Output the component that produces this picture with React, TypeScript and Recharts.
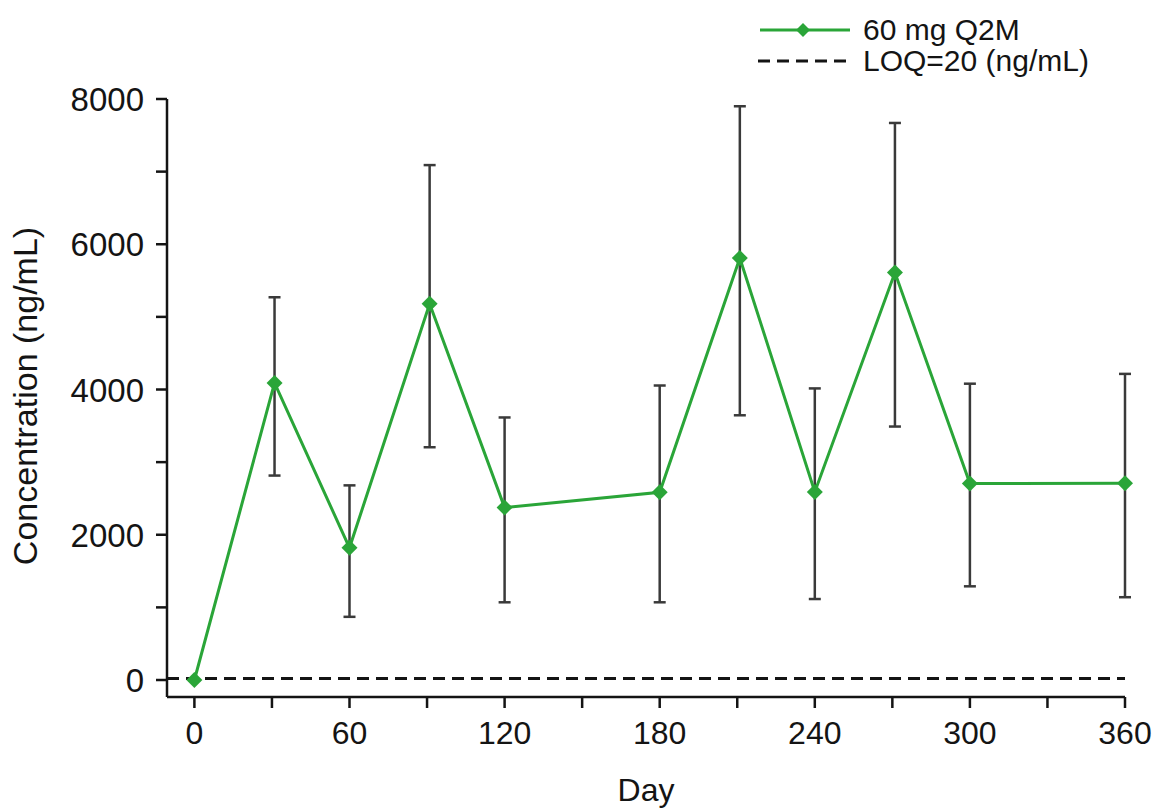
import { LineChart, Line, XAxis, YAxis, ErrorBar, ReferenceLine } from "recharts";

// Day of sample and mean concentration with error range (ng/mL)
const days = [0, 31, 60, 91, 120, 180, 211, 240, 271, 300, 360];
const meanConc = [0, 4090, 1820, 5180, 2375, 2585, 5810, 2590, 5610, 2705, 2710];
const lowerConc = [0, 2815, 870, 3205, 1070, 1070, 3645, 1115, 3490, 1290, 1140];
const upperConc = [0, 5270, 2680, 7090, 3615, 4055, 7900, 4015, 7670, 4080, 4215];

const xTicks = [0, 30, 60, 90, 120, 150, 180, 210, 240, 270, 300, 330, 360];
const xLabelled = [0, 60, 120, 180, 240, 300, 360];
const yTicks = [0, 1000, 2000, 3000, 4000, 5000, 6000, 7000, 8000];
const yLabelled = [0, 2000, 4000, 6000, 8000];
const LOQ = 20;

const GREEN = "#2aa538";
const INK = "#141414";
const FONT = "'Liberation Sans', Arial, sans-serif";

const data = days.map((d, i) => ({
  day: d,
  conc: meanConc[i],
  err: [meanConc[i] - lowerConc[i], upperConc[i] - meanConc[i]],
}));

const Diamond = (props: any) => {
  const { cx, cy, index } = props;
  if (cx == null || cy == null) return null;
  return (
    <path
      key={`d-${index}`}
      d={`M${cx},${cy - 8}L${cx + 8},${cy}L${cx},${cy + 8}L${cx - 8},${cy}Z`}
      fill={GREEN}
    />
  );
};

const XTick = (props: any) => {
  const { x, y, payload } = props;
  if (!xLabelled.includes(payload.value)) return null;
  return (
    <text x={x} y={y + 36} textAnchor="middle" fontSize={32} fill={INK} fontFamily={FONT}>
      {payload.value}
    </text>
  );
};

const YTick = (props: any) => {
  const { x, y, payload } = props;
  if (!yLabelled.includes(payload.value)) return null;
  return (
    <text x={x - 12} y={y + 12} textAnchor="end" fontSize={33} fill={INK} fontFamily={FONT}>
      {payload.value}
    </text>
  );
};

export default function App() {
  return (
    <div style={{ position: "absolute", left: 0, top: 0, width: 1162, height: 810, background: "#fff" }}>
      <LineChart
        width={1162}
        height={810}
        data={data}
        margin={{ top: 99, right: 37, bottom: 43, left: 106 }}
      >
        <XAxis
          dataKey="day"
          type="number"
          domain={[-10.6, 360]}
          ticks={xTicks}
          interval={0}
          tickSize={11}
          tickMargin={0}
          height={70}
          axisLine={{ stroke: INK, strokeWidth: 2.5 }}
          tickLine={{ stroke: INK, strokeWidth: 2.5 }}
          tick={<XTick />}
          label={{
            content: (p: any) => {
              const vb = p.viewBox;
              return (
                <text
                  x={vb.x + vb.width / 2}
                  y={801}
                  textAnchor="middle"
                  fontSize={32}
                  fill={INK}
                  fontFamily={FONT}
                >
                  Day
                </text>
              );
            },
          }}
        />
        <YAxis
          type="number"
          domain={[-234, 8000]}
          ticks={yTicks}
          interval={0}
          width={61}
          tickSize={11}
          tickMargin={0}
          axisLine={{ stroke: INK, strokeWidth: 2.5 }}
          tickLine={{ stroke: INK, strokeWidth: 2.5 }}
          tick={<YTick />}
          label={{
            content: (p: any) => {
              const vb = p.viewBox;
              const cy = vb.y + vb.height / 2 - 2;
              return (
                <text
                  x={37}
                  y={cy}
                  transform={`rotate(-90 37 ${cy})`}
                  textAnchor="middle"
                  fontSize={34}
                  fill={INK}
                  fontFamily={FONT}
                >
                  Concentration (ng/mL)
                </text>
              );
            },
          }}
        />
        <ReferenceLine
          y={LOQ}
          stroke={INK}
          strokeWidth={3}
          strokeDasharray="12 7"
          ifOverflow="extendDomain"
        />
        <Line
          type="linear"
          dataKey="conc"
          stroke={GREEN}
          strokeWidth={3}
          dot={Diamond}
          activeDot={false}
          isAnimationActive={false}
        >
          <ErrorBar
            dataKey="err"
            direction="y"
            width={6}
            stroke="#3a3a3a"
            strokeWidth={2.5}
            isAnimationActive={false}
          />
        </Line>
      </LineChart>

      {/* legend */}
      <div
        style={{
          position: "absolute",
          left: 758,
          top: 14,
          fontFamily: FONT,
          fontSize: 30,
          color: INK,
          lineHeight: "31px",
        }}
      >
        <div style={{ display: "flex", alignItems: "center", height: 31 }}>
          <svg width={94} height={31}>
            <line x1={2} y1={16} x2={92} y2={16} stroke={GREEN} strokeWidth={3} />
            <path d="M45,9L52,16L45,23L38,16Z" fill={GREEN} />
          </svg>
          <span style={{ marginLeft: 11 }}>60 mg Q2M</span>
        </div>
        <div style={{ display: "flex", alignItems: "center", height: 31 }}>
          <svg width={94} height={31}>
            <line x1={0} y1={16} x2={94} y2={16} stroke={INK} strokeWidth={3} strokeDasharray="12 7" />
          </svg>
          <span style={{ marginLeft: 11 }}>LOQ=20 (ng/mL)</span>
        </div>
      </div>
    </div>
  );
}
